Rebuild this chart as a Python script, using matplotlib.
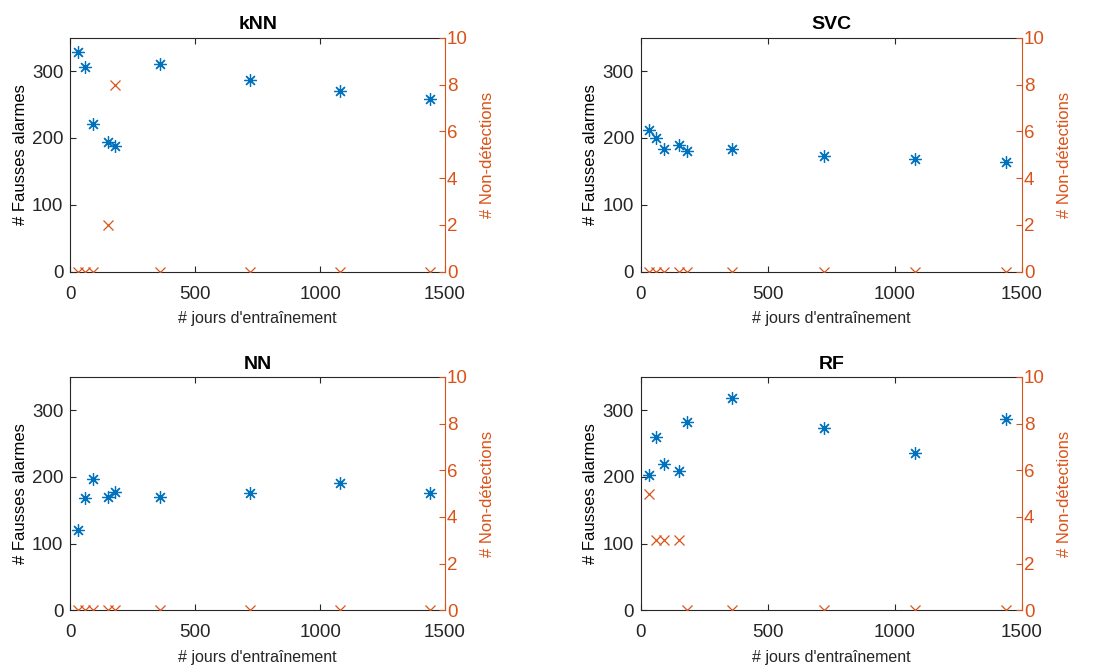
import matplotlib
matplotlib.use("Agg")
import matplotlib.pyplot as plt

plt.rcParams['font.family'] = ['Liberation Sans', 'DejaVu Sans']

days = [30, 60, 90, 150, 180, 360, 720, 1080, 1440]
titles = ["kNN", "SVC", "NN", "RF"]
fausses_alarmes = {
    "kNN": [329, 306, 221, 194, 188, 311, 287, 270, 258],
    "SVC": [212, 200, 184, 189, 181, 184, 173, 168, 164],
    "NN":  [121, 169, 197, 170, 178, 170, 176, 191, 176],
    "RF":  [203, 260, 219, 209, 283, 318, 274, 236, 287],
}
non_detections = {
    "kNN": [0, 0, 0, 2, 8, 0, 0, 0, 0],
    "SVC": [0, 0, 0, 0, 0, 0, 0, 0, 0],
    "NN":  [0, 0, 0, 0, 0, 0, 0, 0, 0],
    "RF":  [5, 3, 3, 3, 0, 0, 0, 0, 0],
}

blue = "#0072BD"
orange = "#D95319"
dark = "#262626"

W, H = 1093, 666
fig = plt.figure(figsize=(W / 100, H / 100), dpi=100)

boxes = [
    (70.3, 37.7, 445.0, 271.7),
    (641.0, 37.7, 1021.7, 271.7),
    (70.3, 377.0, 445.0, 610.3),
    (641.0, 377.0, 1021.7, 610.3),
]

for name, (x0, y0, x1, y1) in zip(titles, boxes):
    ax = fig.add_axes([x0 / W, 1 - y1 / H, (x1 - x0) / W, (y1 - y0) / H])
    ax.plot(days, fausses_alarmes[name], linestyle='none', marker=(8, 2, 0),
            markersize=9, markeredgewidth=0.9, color=blue)
    ax.set_xlim(0, 1500)
    ax.set_ylim(0, 350)
    ax.set_xticks([0, 500, 1000, 1500])
    ax.set_yticks([0, 100, 200, 300])
    ax.tick_params(direction='in', length=4, width=0.8, labelsize=13.5,
                   colors=dark, top=True, right=False)
    ax.tick_params(axis='x', pad=10)
    ax.tick_params(axis='y', pad=5)
    for s in ['left', 'bottom', 'top']:
        ax.spines[s].set_color(dark)
        ax.spines[s].set_linewidth(0.8)
    ax.spines['right'].set_visible(False)
    ax.set_xlabel("# jours d'entraînement", fontsize=11.5, color=dark, labelpad=6)
    ax.set_ylabel("# Fausses alarmes", fontsize=12, color='black', labelpad=3)
    ax.set_title(name, fontsize=14, fontweight='bold', pad=6)

    ax2 = ax.twinx()
    ax2.plot(days, non_detections[name], linestyle='none', marker='x',
             markersize=6.5, markeredgewidth=0.9, color=orange)
    ax2.set_ylim(0, 10)
    ax2.set_yticks([0, 2, 4, 6, 8, 10])
    ax2.tick_params(axis='y', direction='in', length=4, width=0.8,
                    labelsize=13.5, colors=orange, pad=1.5)
    for s in ['left', 'bottom', 'top']:
        ax2.spines[s].set_visible(False)
    ax2.spines['right'].set_color(orange)
    ax2.spines['right'].set_linewidth(0.8)
    ax2.set_ylabel("# Non-détections", fontsize=12, color=orange, labelpad=9)

fig.savefig("out.png", dpi=100, facecolor='white')
